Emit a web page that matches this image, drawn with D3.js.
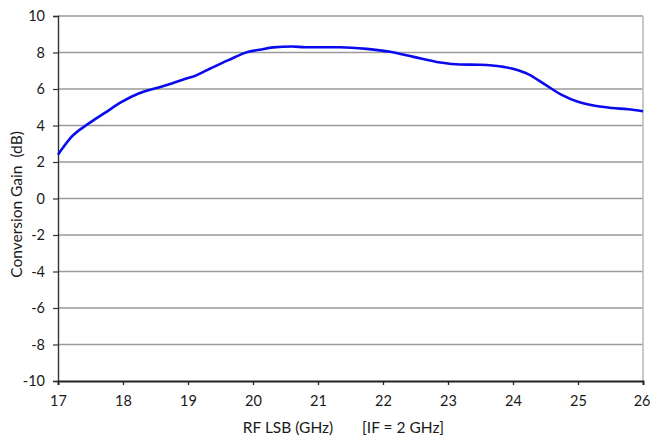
<!DOCTYPE html>
<html><head><meta charset="utf-8">
<script src="https://cdn.jsdelivr.net/npm/d3@7"></script>
<style>
html,body{margin:0;padding:0;background:#fff;}
svg text{font-family:Lato,"Open Sans",sans-serif;fill:#1a1a1a;white-space:pre;}
</style></head>
<body>
<svg id="chart" width="650" height="438"></svg>
<script>
const freqGHz = [17.0,17.1,17.2,17.47,17.72,17.98,18.24,18.49,18.75,18.95,19.11,19.26,19.36,19.62,19.93,20.1,20.31,20.6,20.8,21.0,21.34,21.75,22.11,22.47,22.88,23.18,23.49,23.72,23.98,24.24,24.49,24.75,25.0,25.26,25.52,25.77,26.0];
const gainDB  = [2.4,2.9,3.35,4.1,4.69,5.29,5.75,6.03,6.30,6.55,6.72,6.98,7.15,7.58,8.04,8.15,8.28,8.33,8.29,8.29,8.29,8.2,8.04,7.76,7.45,7.34,7.33,7.27,7.12,6.8,6.25,5.68,5.3,5.08,4.96,4.89,4.78];
const xTicks = [17,18,19,20,21,22,23,24,25,26];
const yTicks = [-10,-8,-6,-4,-2,0,2,4,6,8,10];
const xTitle = "RF LSB (GHz)";
const xNote = "[IF = 2 GHz]";
const yTitle = "Conversion Gain  (dB)";

const svg = d3.select("#chart");
const m = {left:58, right:7, top:16, bottom:57};
const W = 650, H = 438;
const x = d3.scaleLinear().domain([17,26]).range([m.left, W - m.right]);
const y = d3.scaleLinear().domain([-10,10]).range([H - m.bottom, m.top]);

// gridlines
svg.append("g").selectAll("line").data(yTicks.filter(d=>d>-10)).join("line")
  .attr("x1", x(17)).attr("x2", x(26))
  .attr("y1", d=>y(d)).attr("y2", d=>y(d))
  .attr("stroke", "#9a9a9a").attr("stroke-width", 1.3);
// right border
svg.append("line").attr("x1", x(26)).attr("x2", x(26))
  .attr("y1", y(10)).attr("y2", y(-10)).attr("stroke", "#bbb").attr("stroke-width", 1.6);

// y axis
const yAxis = svg.append("g").attr("transform", `translate(${x(17)},0)`)
  .call(d3.axisLeft(y).tickValues(yTicks).tickSize(5).tickPadding(8).tickFormat(d=>String(d)));
yAxis.select(".domain").attr("stroke", "#333").attr("stroke-width", 1.4);
yAxis.selectAll(".tick line").attr("stroke", "#333").attr("stroke-width", 1.2);
yAxis.selectAll("text").attr("font-size", 14.5).attr("fill", "#1a1a1a");

// x axis
const xAxis = svg.append("g").attr("transform", `translate(0,${y(-10)})`)
  .call(d3.axisBottom(x).tickValues(xTicks).tickSize(4).tickPadding(11).tickFormat(d=>String(d)));
xAxis.select(".domain").attr("stroke", "#222").attr("stroke-width", 1.8);
xAxis.selectAll(".tick line").attr("stroke", "#222").attr("stroke-width", 1.3);
xAxis.selectAll("text").attr("font-size", 14.5).attr("fill", "#1a1a1a");
xAxis.selectAll(".tick").filter(d=>d===26).select("text").attr("text-anchor","end").attr("dx", 7);

// line
const line = d3.line().x((d,i)=>x(freqGHz[i])).y(d=>y(d)).curve(d3.curveMonotoneX);
svg.append("path").datum(gainDB).attr("d", line)
  .attr("fill", "none").attr("stroke", "#0a0aee").attr("stroke-width", 2.6)
  .attr("stroke-linejoin", "round");

// titles
svg.append("text").attr("x", 288).attr("y", 433).attr("text-anchor", "middle")
  .attr("font-size", 15.5).text(xTitle);
svg.append("text").attr("x", 403).attr("y", 433).attr("text-anchor", "middle")
  .attr("font-size", 15.5).text(xNote);
svg.append("text").attr("transform", `translate(22,${y(0)+6}) rotate(-90)`)
  .attr("text-anchor", "middle").attr("font-size", 15.5).text(yTitle);
</script>
</body></html>
